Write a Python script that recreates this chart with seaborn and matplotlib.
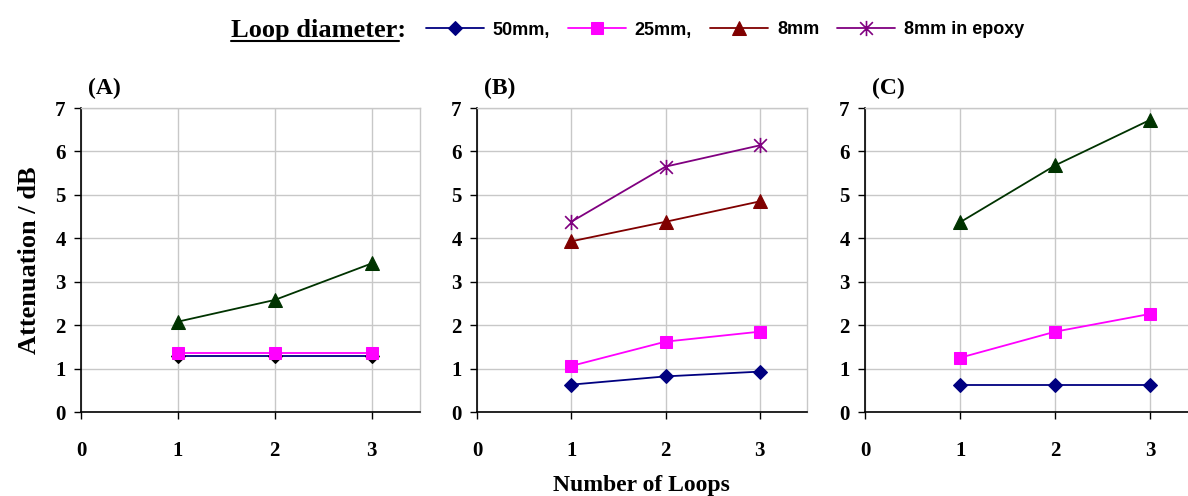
import numpy as np
import pandas as pd
import seaborn as sns
import matplotlib.pyplot as plt
from matplotlib.lines import Line2D
from matplotlib.path import Path

# data
loops = [1, 2, 3]
series_names = ['50mm,', '25mm,', '8mm', '8mm in epoxy']

a_50mm = [1.30, 1.30, 1.30]
a_25mm = [1.37, 1.37, 1.37]
a_8mm = [2.08, 2.58, 3.42]

b_50mm = [0.63, 0.82, 0.93]
b_25mm = [1.06, 1.62, 1.85]
b_8mm = [3.93, 4.38, 4.85]
b_epoxy = [4.38, 5.65, 6.14]

c_50mm = [0.63, 0.63, 0.63]
c_25mm = [1.25, 1.85, 2.26]
c_8mm = [4.37, 5.68, 6.73]

panel_labels = ['(A)', '(B)', '(C)']
yticks = [0, 1, 2, 3, 4, 5, 6, 7]
xticks = [0, 1, 2, 3]

sns.set_theme(style='white')
plt.rcParams['font.family'] = ['Liberation Serif', 'DejaVu Serif']
plt.rcParams['font.weight'] = 'bold'
for k in ['text.color', 'axes.labelcolor', 'xtick.color', 'ytick.color']:
    plt.rcParams[k] = 'black'

NAVY = '#000080'
PINK = '#ff00ff'
DRED = '#800000'
DGREEN = '#003300'
PURPLE = '#800080'

# excel style star: an X with a vertical bar through it
star = Path([(-1, -1), (1, 1), (-1, 1), (1, -1), (0, -1.2), (0, 1.2)],
            [Path.MOVETO, Path.LINETO, Path.MOVETO, Path.LINETO, Path.MOVETO, Path.LINETO])

style_50 = dict(color=NAVY, marker='D', markersize=7, markerfacecolor=NAVY, markeredgecolor=NAVY)
style_25 = dict(color=PINK, marker='s', markersize=8, markerfacecolor=PINK, markeredgecolor=PINK)
style_8r = dict(color=DRED, marker='^', markersize=10, markerfacecolor=DRED, markeredgecolor=DRED)
style_8g = dict(color=DGREEN, marker='^', markersize=10, markerfacecolor=DGREEN, markeredgecolor=DGREEN)
style_ep = dict(color=PURPLE, marker=star, markersize=11, markeredgecolor=PURPLE, markeredgewidth=1.2)

panels = [
    [(a_50mm, dict(style_50, markerfacecolor='black', markeredgecolor='black'), series_names[0]),
     (a_25mm, style_25, series_names[1]),
     (a_8mm, style_8g, series_names[2])],
    [(b_50mm, style_50, series_names[0]),
     (b_25mm, style_25, series_names[1]),
     (b_8mm, style_8r, series_names[2]),
     (b_epoxy, style_ep, series_names[3])],
    [(c_50mm, style_50, series_names[0]),
     (c_25mm, style_25, series_names[1]),
     (c_8mm, style_8g, series_names[2])],
]

fig = plt.figure(figsize=(11.88, 4.96), dpi=100)
W, H = 1188, 496
boxes = [(81, 420), (477, 807), (865, 1198)]
top_px, bot_px = 108, 412

axes = []
for (l, r), series, lab in zip(boxes, panels, panel_labels):
    ax = fig.add_axes([l / W, 1 - bot_px / H, (r - l) / W, (bot_px - top_px) / H])
    for vals, st, name in series:
        df = pd.DataFrame({'loops': loops, 'att': vals})
        sns.lineplot(data=df, x='loops', y='att', ax=ax, lw=1.3, label=name, **st)
    ax.set_xlim(0, 3.5)
    ax.set_ylim(0, 7)
    ax.set_xticks(xticks)
    ax.set_yticks(yticks)
    ax.grid(True, color='#c8c8c8', lw=1)
    ax.set_axisbelow(True)
    for s in ['top', 'right']:
        ax.spines[s].set_color('#c8c8c8')
        ax.spines[s].set_linewidth(1)
    for s in ['left', 'bottom']:
        ax.spines[s].set_color('black')
        ax.spines[s].set_linewidth(1.2)
    ax.tick_params(axis='both', which='major', direction='out', length=5, width=1, color='black',
                   labelsize=15, labelcolor='black', bottom=True, left=True)
    ax.tick_params(axis='x', pad=16)
    ax.tick_params(axis='y', pad=6)
    for t in ax.get_xticklabels() + ax.get_yticklabels():
        t.set_fontweight('bold')
    ax.set_xlabel('')
    ax.set_ylabel('')
    ax.text(0.02, 1.03, lab, transform=ax.transAxes, fontsize=17, fontweight='bold', va='bottom', ha='left')
    ax.get_legend().remove()
    axes.append(ax)

axes[0].set_ylabel('Attenuation / dB', fontsize=19, fontweight='bold', labelpad=10)
fig.text(641 / W, 1 - 485 / H, 'Number of Loops', fontsize=17, fontweight='bold', ha='center', va='center')

# legend along the top
handles, labels = axes[1].get_legend_handles_labels()
leg = fig.legend(handles, labels, loc='center', bbox_to_anchor=(725 / W, 1 - 30 / H), ncol=4,
                 frameon=False, handlelength=3.2, columnspacing=1.0, handletextpad=0.5,
                 prop={'family': ['Liberation Sans Narrow', 'Liberation Sans'], 'weight': 'bold', 'size': 13})
for t in leg.get_texts():
    t.set_color('black')

title = fig.text(406 / W, 1 - 30 / H, 'Loop diameter:', fontsize=19, fontweight='bold', ha='right', va='center')
fig.canvas.draw()
bb = title.get_window_extent().transformed(fig.transFigure.inverted())
colon_w = 0.006
fig.add_artist(Line2D([bb.x0, bb.x1 - colon_w], [bb.y0 + 0.002, bb.y0 + 0.002], transform=fig.transFigure,
                      color='black', lw=1.5))

fig.savefig('out.png', dpi=100)
